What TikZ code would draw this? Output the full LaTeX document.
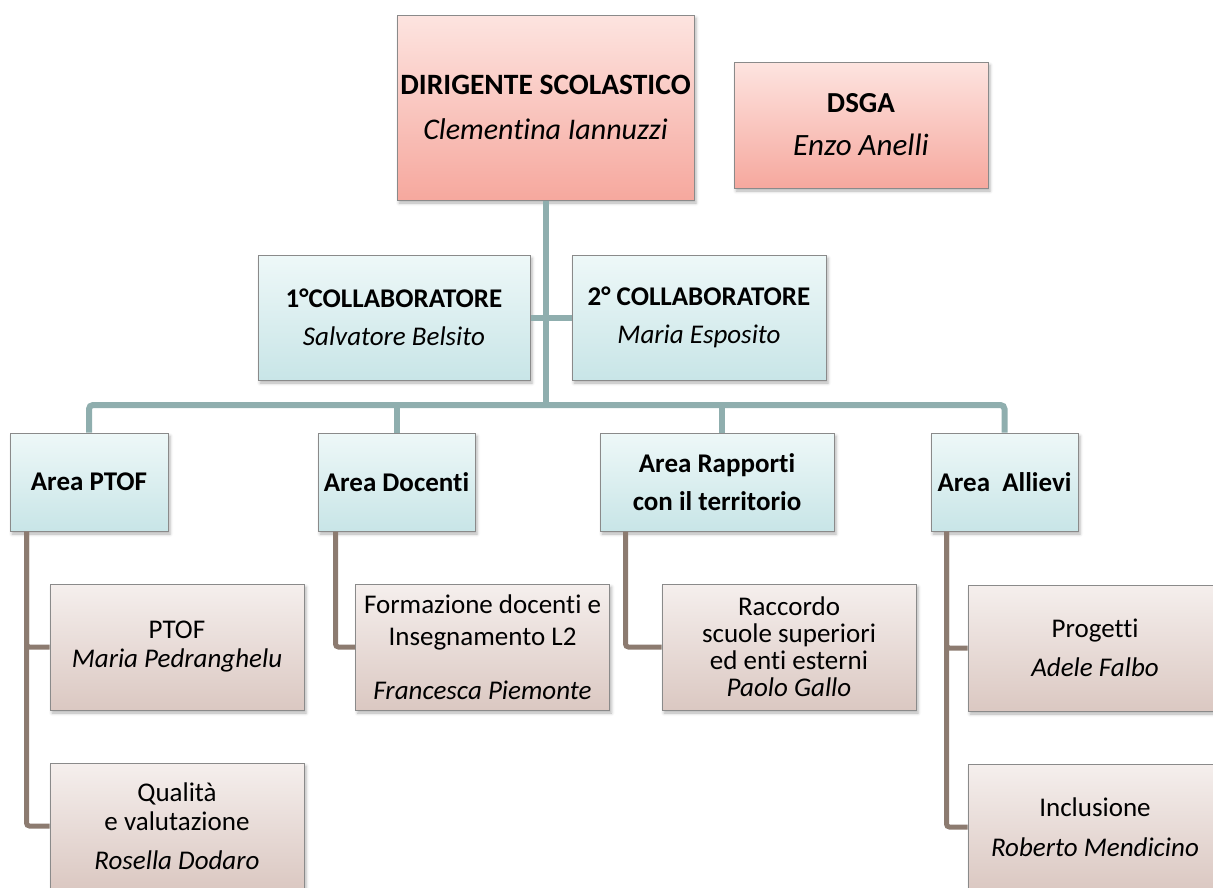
\documentclass[tikz,border=0pt]{standalone}
\usepackage{fontspec}
\setmainfont{Carlito}[Ligatures=NoCommon]
\usetikzlibrary{shadows.blur}

\definecolor{pinktop}{HTML}{FDE4E0}
\definecolor{pinkbot}{HTML}{F6A89E}
\definecolor{bluetop}{HTML}{EEF8F8}
\definecolor{bluebot}{HTML}{C8E5E7}
\definecolor{browntop}{HTML}{F5EFED}
\definecolor{brownbot}{HTML}{DBC8C2}
\definecolor{boxgray}{HTML}{8A8A8A}
\definecolor{teallink}{HTML}{8FAEAE}
\definecolor{brownlink}{HTML}{8C7B70}

\tikzset{
  box/.style={draw=boxgray, line width=1pt, inner sep=0pt, align=center,
    font=\fontsize{27}{38}\selectfont,
    blur shadow={shadow xshift=2pt, shadow yshift=-3pt, shadow blur radius=3pt, shadow opacity=30}},
  pinkbox/.style={box, top color=pinktop, bottom color=pinkbot},
  bluebox/.style={box, top color=bluetop, bottom color=bluebot},
  brownbox/.style={box, top color=browntop, bottom color=brownbot,
    minimum width=254pt, minimum height=126pt},
  areabox/.style={bluebox, minimum height=98pt},
  teal line/.style={draw=teallink, line width=6pt},
  brown line/.style={draw=brownlink, line width=5pt, rounded corners=3pt},
}

\begin{document}
\begin{tikzpicture}[x=1pt, y=-1pt]
    \useasboundingbox (0,0) rectangle (1213,887);
    \def\bus{405}

    % Top: head and DSGA
    \node[pinkbox, minimum width=297pt, minimum height=185pt, font=\fontsize{29.5}{45}\selectfont]
      (ds) at (545.5,107.5) {\textbf{DIRIGENTE SCOLASTICO}\\\textit{\fontsize{30}{45}\selectfont Clementina Iannuzzi}};
    \node[pinkbox, minimum width=254pt, minimum height=126pt, font=\fontsize{29}{43}\selectfont]
      (dsga) at (861,125) {\textbf{DSGA}\\\textit{\fontsize{31}{43}\selectfont Enzo Anelli}};

    % Collaboratori
    \node[bluebox, minimum width=272pt, minimum height=125pt]
      (coll1) at (394,317.5) {\textbf{1°COLLABORATORE}\\\textit{Salvatore Belsito}};
    \node[bluebox, minimum width=254pt, minimum height=125pt]
      (coll2) at (699,317.5) {\textbf{2° COLLABORATORE}\\\textit{Maria Esposito}};

    % The four areas
    \node[areabox, minimum width=158pt] (aptof) at (89,482) {\textbf{Area PTOF}};
    \node[areabox, minimum width=157pt] (adoc) at (396.5,482) {\textbf{Area Docenti}};
    \node[areabox, minimum width=234pt] (arap) at (717,482) {\textbf{Area Rapporti}\\\textbf{con il territorio}};
    \node[areabox, minimum width=147pt] (aall) at (1004.5,482) {\textbf{Area\ \ Allievi}};

    % Functions under each area
    \node[brownbox, font=\fontsize{27}{29}\selectfont] (ptof) at (177,647) {PTOF\\\textit{Maria Pedranghelu}};
    \node[brownbox, font=\fontsize{27}{29}\selectfont] (qual) at (177,826) {Qualità\\e valutazione\\[10pt]\textit{Rosella Dodaro}};
    \node[brownbox, font=\fontsize{27}{32}\selectfont] (form) at (482.5,647) {Formazione docenti e\\Insegnamento L2\\[22pt]\textit{Francesca Piemonte}};
    \node[brownbox, font=\fontsize{27}{27}\selectfont] (racc) at (789,647) {Raccordo\\scuole superiori\\ed enti esterni\\\textit{Paolo Gallo}};
    \node[brownbox, font=\fontsize{27}{39}\selectfont] (prog) at (1095,648) {Progetti\\\textit{Adele Falbo}};
    \node[brownbox, font=\fontsize{27}{40}\selectfont] (incl) at (1095,827) {Inclusione\\\textit{Roberto Mendicino}};

    % Teal links from the head down to the areas
    \coordinate (split) at (ds.south |- 0,\bus);
    \draw[teal line] (ds.south) -- (split);
    \draw[teal line] (coll1.east) -- (coll2.west);
    \draw[teal line, rounded corners=4pt] (aptof.north) -- (aptof.north |- split) -- (aall.north |- split) -- (aall.north);
    \draw[teal line] (adoc.north) -- (adoc.north |- split);
    \draw[teal line] ([xshift=5pt]arap.north) -- ([xshift=5pt]arap.north |- split);

    % Brown links from each area to its functions
    \draw[brown line] ([xshift=17pt]aptof.south west) |- (ptof.west);
    \draw[brown line] ([xshift=17pt]aptof.south west) |- (qual.west);
    \draw[brown line] ([xshift=18pt]adoc.south west) |- (form.west);
    \draw[brown line] ([xshift=26pt]arap.south west) |- (racc.west);
    \draw[brown line] ([xshift=16pt]aall.south west) |- (prog.west);
    \draw[brown line] ([xshift=16pt]aall.south west) |- (incl.west);
\end{tikzpicture}
\end{document}
